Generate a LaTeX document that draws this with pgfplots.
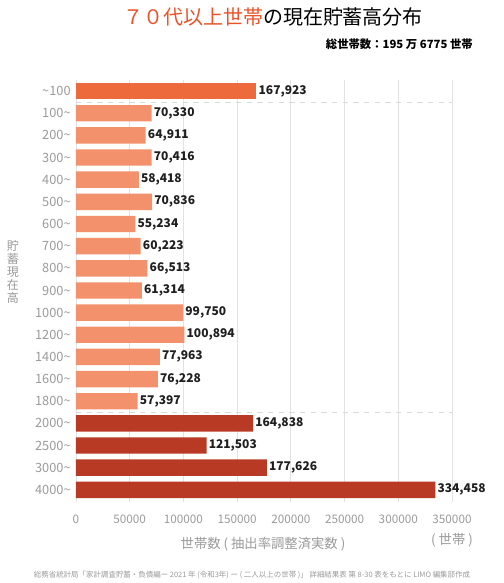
\documentclass[border=0pt]{standalone}
\usepackage{pgfplots}
\pgfplotsset{compat=1.18}
\usepackage{fontspec}
\setmainfont{Noto Sans CJK JP}
\definecolor{topbar}{HTML}{EC6A3C}
\definecolor{midbar}{HTML}{F2916B}
\definecolor{lowbar}{HTML}{B83A24}
\definecolor{gridgray}{HTML}{E2E2E2}
\definecolor{dashgray}{HTML}{DADADA}
\definecolor{labgray}{HTML}{9A9A9A}
\definecolor{titleorange}{HTML}{E9542A}
\pgfplotsset{barlab/.style={xbar, draw=none, bar shift=0pt}}
\begin{document}
\begin{tikzpicture}
\path[use as bounding box] (0,0) rectangle (378pt,437.25pt);
\begin{axis}[
    at={(57pt,60.75pt)},
    anchor=south west,
    scale only axis,
    width=282pt,
    height=316.5pt,
    xbar,
    bar width=12.3pt,
    y dir=reverse,
    xmin=0, xmax=350000,
    ymin=-0.5, ymax=18.55,
    ytick={0,...,18},
    yticklabels={\textasciitilde100,100\textasciitilde,200\textasciitilde,300\textasciitilde,400\textasciitilde,500\textasciitilde,600\textasciitilde,700\textasciitilde,800\textasciitilde,900\textasciitilde,1000\textasciitilde,1200\textasciitilde,1400\textasciitilde,1600\textasciitilde,1800\textasciitilde,2000\textasciitilde,2500\textasciitilde,3000\textasciitilde,4000\textasciitilde},
    xtick={0,50000,...,350000},
    xticklabels={0,50000,100000,150000,200000,250000,300000,350000},
    scaled x ticks=false,
    xticklabel style={anchor=center, yshift=-12.75pt, font=\fontsize{8.8}{10}\selectfont, text=labgray},
    yticklabel style={font=\fontsize{9.6}{11}\selectfont, text=labgray, xshift=-0.5pt},
    major tick length=0pt,
    axis line style={draw=none},
    xmajorgrids,
    ymajorgrids=false,
    grid style={gridgray, line width=0.7pt},
    point meta=explicit symbolic,
    nodes near coords,
    every node near coord/.append style={anchor=west, font=\bfseries\fontsize{9}{10}\selectfont, text=black!88, inner sep=1.5pt},
    clip=false,
    ]
\addplot[barlab, fill=topbar] coordinates {
(167923,0) [167,923]
};
\addplot[barlab, fill=midbar] coordinates {
(70330,1) [70,330]
(64911,2) [64,911]
(70416,3) [70,416]
(58418,4) [58,418]
(70836,5) [70,836]
(55234,6) [55,234]
(60223,7) [60,223]
(66513,8) [66,513]
(61314,9) [61,314]
(99750,10) [99,750]
(100894,11) [100,894]
(77963,12) [77,963]
(76228,13) [76,228]
(57397,14) [57,397]
};
\addplot[barlab, fill=lowbar] coordinates {
(164838,15) [164,838]
(121503,16) [121,503]
(177626,17) [177,626]
(334458,18) [334,458]
};
\draw[dashgray, line width=0.7pt, dash pattern=on 4pt off 4pt] (axis cs:0,0.5) -- (axis cs:350000,0.5);
\draw[dashgray, line width=0.7pt, dash pattern=on 4pt off 4pt] (axis cs:0,14.5) -- (axis cs:350000,14.5);
\end{axis}
\node[font=\fontsize{15}{17}\selectfont] at (204.75pt,424.5pt) {\textcolor{titleorange}{７０代以上世帯}の現在貯蓄高分布};
\node[anchor=east, font=\bfseries\fontsize{8.5}{10}\selectfont, inner sep=0pt] at (354.75pt,404.25pt) {総世帯数：195 万 6775 世帯};
\node[font=\fontsize{10}{12}\selectfont, text=labgray] at (197.25pt,29.25pt) {世帯数 ( 抽出率調整済実数 )};
\node[font=\fontsize{10}{12}\selectfont, text=labgray] at (339pt,32.25pt) {( 世帯 )};
\node[font=\fontsize{9}{9.75}\selectfont, text=labgray, align=center] at (9.75pt,233.25pt) {貯\\蓄\\現\\在\\高};
\node[font=\fontsize{5.6}{7}\selectfont, text=labgray] at (189pt,6pt) {総務省統計局「家計調査貯蓄・負債編ー 2021 年 (令和3年) ー ( 二人以上の世帯 )」 詳細結果表 第 8-30 表をもとに LIMO 編集部作成};
\end{tikzpicture}
\end{document}
